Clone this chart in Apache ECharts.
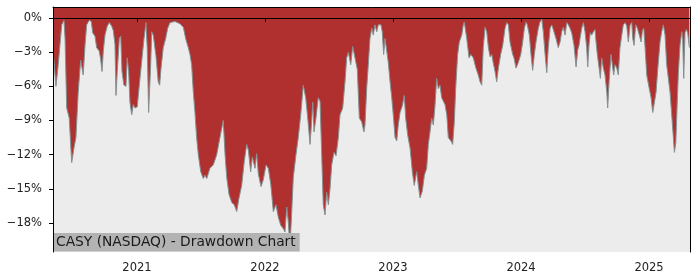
<!DOCTYPE html>
<html>
<head>
<meta charset="utf-8">
<script src="https://cdn.jsdelivr.net/npm/echarts@6/dist/echarts.min.js"></script>
<style>html,body{margin:0;padding:0;background:#fff}#c{width:700px;height:280px}</style>
</head>
<body>
<div id="c"></div>
<script>
// Decimal-year dates and drawdown (%)
const dates = [
2020.346,2020.367,2020.385,2020.412,2020.430,2020.438,2020.451,2020.471,2020.482,2020.490,
2020.508,2020.523,2020.541,2020.560,2020.570,2020.580,2020.594,2020.607,2020.627,2020.643,
2020.654,2020.672,2020.685,2020.705,2020.716,2020.727,2020.737,2020.750,2020.768,2020.784,
2020.802,2020.815,2020.828,2020.836,2020.846,2020.862,2020.873,2020.883,2020.898,2020.914,
2020.924,2020.935,2020.945,2020.959,2020.971,2020.984,2021.002,2021.018,2021.037,2021.055,
2021.070,2021.080,2021.091,2021.107,2021.115,2021.127,2021.148,2021.166,2021.177,2021.188,
2021.205,2021.224,2021.240,2021.258,2021.297,2021.336,2021.362,2021.380,2021.401,2021.414,
2021.427,2021.440,2021.453,2021.466,2021.479,2021.498,2021.518,2021.531,2021.545,2021.570,
2021.596,2021.623,2021.648,2021.674,2021.688,2021.701,2021.719,2021.740,2021.760,2021.779,
2021.797,2021.818,2021.838,2021.857,2021.870,2021.888,2021.901,2021.922,2021.935,2021.948,
2021.969,2021.987,2022.008,2022.026,2022.045,2022.065,2022.086,2022.104,2022.123,2022.143,
2022.156,2022.170,2022.182,2022.195,2022.209,2022.221,2022.242,2022.260,2022.279,2022.299,
2022.318,2022.334,2022.352,2022.365,2022.373,2022.383,2022.398,2022.416,2022.430,2022.443,
2022.455,2022.469,2022.482,2022.495,2022.508,2022.521,2022.539,2022.555,2022.573,2022.586,
2022.607,2022.625,2022.638,2022.651,2022.670,2022.685,2022.703,2022.721,2022.737,2022.755,
2022.773,2022.781,2022.795,2022.807,2022.820,2022.834,2022.846,2022.859,2022.873,2022.885,
2022.906,2022.916,2022.927,2022.938,2022.953,2022.963,2022.977,2022.990,2023.002,2023.016,
2023.029,2023.041,2023.055,2023.073,2023.088,2023.099,2023.115,2023.133,2023.151,2023.166,
2023.185,2023.198,2023.211,2023.229,2023.245,2023.263,2023.276,2023.289,2023.302,2023.315,
2023.328,2023.341,2023.354,2023.367,2023.380,2023.393,2023.406,2023.420,2023.432,2023.453,
2023.466,2023.479,2023.490,2023.505,2023.518,2023.537,2023.549,2023.557,2023.576,2023.594,
2023.609,2023.627,2023.648,2023.666,2023.680,2023.693,2023.705,2023.719,2023.732,2023.745,
2023.758,2023.771,2023.784,2023.797,2023.810,2023.823,2023.841,2023.857,2023.875,2023.888,
2023.901,2023.914,2023.935,2023.945,2023.961,2023.979,2023.998,2024.013,2024.026,2024.039,
2024.049,2024.065,2024.078,2024.091,2024.104,2024.117,2024.135,2024.148,2024.162,2024.174,
2024.188,2024.201,2024.213,2024.227,2024.240,2024.252,2024.273,2024.291,2024.305,2024.318,
2024.330,2024.344,2024.357,2024.370,2024.383,2024.396,2024.414,2024.430,2024.443,2024.453,
2024.461,2024.474,2024.487,2024.500,2024.513,2024.521,2024.531,2024.541,2024.552,2024.565,
2024.578,2024.586,2024.596,2024.609,2024.620,2024.630,2024.643,2024.656,2024.670,2024.677,
2024.688,2024.703,2024.713,2024.724,2024.734,2024.748,2024.760,2024.773,2024.787,2024.799,
2024.813,2024.826,2024.838,2024.852,2024.865,2024.873,2024.883,2024.896,2024.909,2024.924,
2024.938,2024.948,2024.959,2024.969,2024.982,2025.000,2025.016,2025.029,2025.041,2025.055,
2025.068,2025.086,2025.099,2025.112,2025.125,2025.138,2025.151,2025.164,2025.177,2025.190,
2025.198,2025.209,2025.219,2025.229,2025.242,2025.256,2025.263,2025.271,2025.281,2025.291,
2025.302,2025.315
];
const drawdown = [
-3.0,-6.0,-4.1,-0.6,-0.2,-1.8,-7.9,-8.8,-11.1,-12.7,
-11.4,-10.5,-6.5,-3.7,-3.6,-5.0,-2.4,-0.6,-0.2,-0.3,
-1.3,-1.6,-2.6,-2.9,-3.6,-4.7,-2.9,-1.5,-0.7,-0.4,
-0.7,-1.1,-2.3,-6.8,-4.7,-1.8,-1.6,-4.7,-5.9,-6.0,
-3.5,-4.7,-7.4,-8.5,-7.6,-7.9,-7.8,-5.9,-3.8,-1.8,
-0.4,-2.6,-8.3,-4.1,-1.2,-1.5,-3.3,-5.6,-5.9,-4.4,
-2.6,-1.8,-0.9,-0.4,-0.3,-0.5,-0.8,-1.8,-2.6,-3.2,
-4.1,-6.5,-8.3,-10.5,-12.0,-13.5,-14.1,-13.8,-14.1,-13.2,
-12.9,-12.0,-10.5,-9.0,-12.0,-14.0,-15.5,-16.2,-16.4,-17.0,
-15.8,-14.7,-12.6,-11.1,-11.6,-13.5,-12.2,-13.2,-11.9,-13.7,
-14.8,-14.2,-12.9,-13.2,-14.6,-17.0,-16.4,-17.5,-18.2,-18.5,
-18.8,-16.6,-17.9,-20.2,-17.0,-14.0,-12.0,-10.5,-8.5,-5.9,
-7.0,-8.8,-11.1,-9.0,-7.4,-10.0,-8.8,-7.0,-7.3,-12.0,
-16.4,-17.3,-15.3,-16.4,-15.0,-12.9,-11.8,-12.1,-10.5,-8.5,
-7.9,-5.6,-3.5,-3.0,-4.1,-2.5,-3.5,-4.5,-8.8,-9.1,
-10.0,-9.4,-6.1,-4.1,-1.8,-0.9,-1.5,-0.6,-1.2,-0.6,
-0.6,-1.2,-3.2,-1.8,-1.8,-3.9,-5.6,-7.0,-8.5,-10.5,
-10.8,-9.4,-8.3,-7.7,-6.8,-8.8,-10.3,-11.4,-13.5,-14.7,
-13.5,-14.7,-15.8,-15.2,-13.8,-13.2,-11.1,-10.0,-8.8,-9.4,
-7.7,-5.3,-6.2,-5.9,-7.0,-7.3,-7.6,-8.5,-10.5,-10.8,
-11.1,-9.1,-6.1,-3.2,-2.1,-1.5,-0.6,-0.35,-1.8,-3.5,
-3.2,-3.5,-4.4,-5.0,-5.6,-5.9,-2.6,-0.8,-1.2,-2.6,
-3.4,-3.2,-4.0,-4.7,-5.6,-4.4,-3.2,-2.4,-0.9,-0.4,
-0.6,-2.1,-3.2,-3.5,-4.4,-3.9,-3.2,-2.1,-0.9,-0.35,
-0.6,-1.5,-3.2,-4.6,-3.2,-2.1,-0.9,-0.35,-0.1,-1.2,
-3.2,-4.8,-2.6,-0.9,-0.6,-1.0,-1.8,-2.6,-2.1,-1.2,
-0.8,-1.5,-0.4,-0.6,-0.9,-1.3,-2.4,-4.3,-2.8,-2.4,
-1.8,-0.9,-0.4,-1.2,-2.6,-4.3,-2.4,-1.3,-1.5,-1.2,
-1.0,-2.1,-3.2,-4.3,-5.3,-3.5,-4.4,-5.0,-6.5,-7.9,
-5.6,-3.2,-4.1,-5.0,-4.1,-4.4,-5.0,-2.6,-1.5,-0.6,
-0.4,-0.7,-2.1,-0.6,-0.4,-1.8,-2.4,-0.6,-0.9,-1.5,
-2.1,-1.1,-0.9,-2.6,-5.0,-6.1,-7.0,-8.3,-8.3,-6.5,
-4.5,-2.1,-1.2,-0.6,-1.5,-4.1,-5.3,-6.5,-8.5,-10.5,
-11.8,-11.0,-7.8,-4.8,-2.4,-1.2,-1.8,-5.3,-1.3,-1.0,
-1.3,-2.6
];
const yearTicks = [2021, 2022, 2023, 2024, 2025];
const pctTicks = [-18, -15, -12, -9, -6, -3, 0];
const titleText = 'CASY (NASDAQ) - Drawdown Chart';

const seriesData = dates.map((d, i) => [d, drawdown[i]]);
const FONT = 'DejaVu Sans';
const xMin = 2020.344, xMax = 2025.320, yMin = -20.55, yMax = 0.97;
const chart = echarts.init(document.getElementById('c'), null, {renderer: 'canvas'});
const pctFmt = v => (v < 0 ? '\u2212' : '') + Math.abs(Math.round(v)) + '%';
chart.setOption({
  animation: false,
  backgroundColor: '#ffffff',
  grid: {left: 53, right: 10, top: 7, bottom: 28, show: true, backgroundColor: '#ececec', borderWidth: 0},
  title: {
    text: titleText, left: 53, top: 233,
    padding: [2, 4, 2, 3], backgroundColor: '#b3b3b3', itemGap: 0,
    textStyle: {fontFamily: FONT, fontSize: 13.8, fontWeight: 'normal', color: '#1a1a1a', lineHeight: 14.6}
  },
  xAxis: [{
    type: 'value', min: xMin, max: xMax, z: 10,
    axisLine: {show: true, lineStyle: {color: '#000', width: 1}},
    axisTick: {show: true, length: 4, lineStyle: {color: '#000'}, customValues: yearTicks},
    axisLabel: {customValues: yearTicks, formatter: v => String(Math.round(v)), fontFamily: FONT, fontSize: 11.5, color: '#222', margin: 10},
    splitLine: {show: false}
  }, {
    type: 'value', position: 'top', min: xMin, max: xMax, z: 10,
    axisLine: {show: true, onZero: false, lineStyle: {color: '#000', width: 1}},
    axisTick: {show: false}, axisLabel: {show: false}, splitLine: {show: false}
  }],
  yAxis: [{
    type: 'value', min: yMin, max: yMax, z: 10,
    axisLine: {show: true, lineStyle: {color: '#000', width: 1}},
    axisTick: {show: true, length: 4, lineStyle: {color: '#000'}, customValues: pctTicks},
    axisLabel: {customValues: pctTicks, formatter: pctFmt, fontFamily: FONT, fontSize: 11.5, color: '#222', margin: 11},
    splitLine: {show: false}
  }, {
    type: 'value', position: 'right', min: yMin, max: yMax, z: 10,
    axisLine: {show: true, onZero: false, lineStyle: {color: '#000', width: 1}},
    axisTick: {show: false}, axisLabel: {show: false}, splitLine: {show: false}
  }],
  series: [{
    type: 'line', data: seriesData, xAxisIndex: 0, yAxisIndex: 0,
    showSymbol: false, symbol: 'none', smooth: false,
    lineStyle: {color: '#869090', width: 1},
    areaStyle: {origin: 'end', color: '#b03030', opacity: 1}
  }]
});
</script>
</body>
</html>
